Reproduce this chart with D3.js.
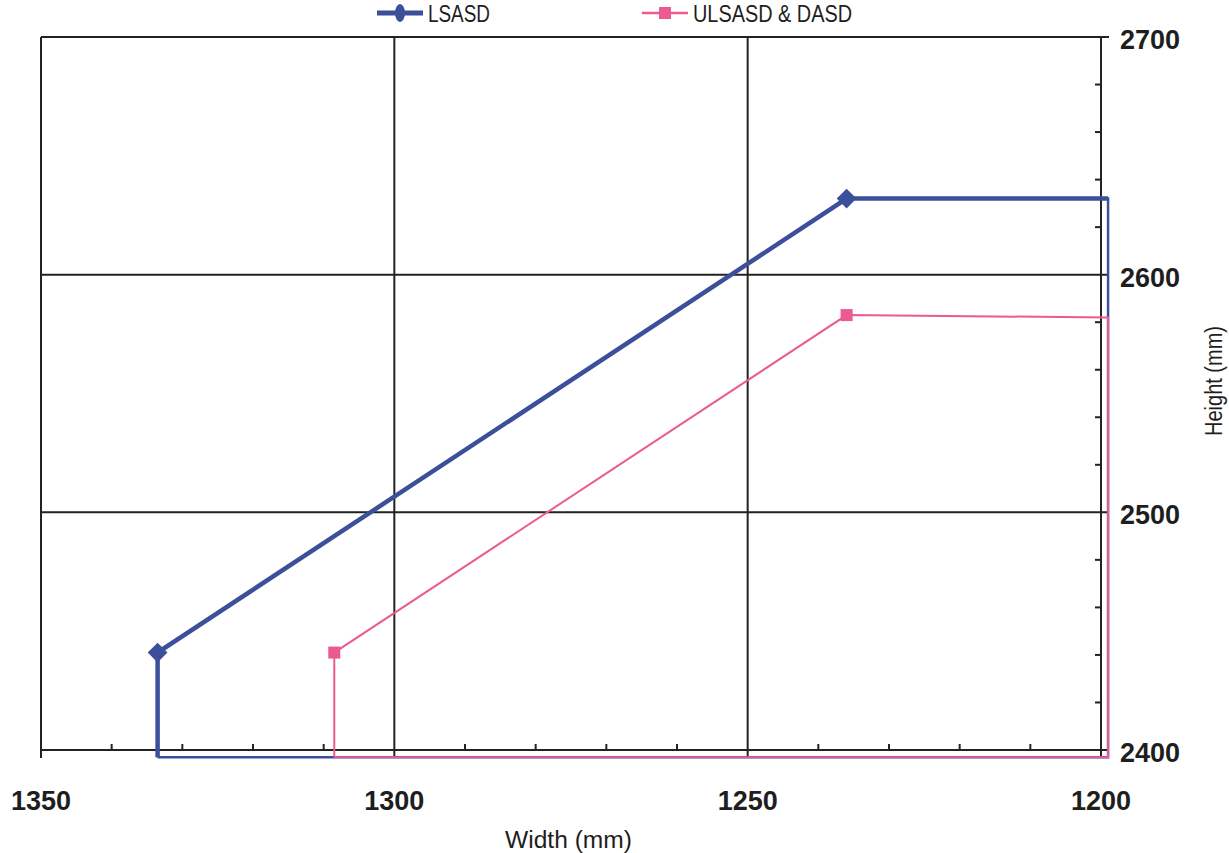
<!DOCTYPE html>
<html><head>
<meta charset="utf-8">
<script src="https://d3js.org/d3.v7.min.js"></script>
<style>
  body { margin: 0; background: #fff; }
  .tick-label { font-family: "Liberation Sans", Arial, sans-serif; font-weight: bold; font-size: 27px; fill: #1e1e1e; }
  .title { font-family: "Liberation Sans", Arial, sans-serif; font-size: 23px; fill: #1e1e1e; }
  .grid { stroke: #222; stroke-width: 2px; }
</style>
</head>
<body>
<svg id="chart" width="1229" height="853"></svg>
<script>
  // series: width (mm) and height (mm), outline of each envelope
  const lsasdWidth  = [1333.5, 1333.5, 1236, 1199, 1199, 1333.5];
  const lsasdHeight = [2397, 2441, 2632, 2632, 2397, 2397];
  const ulsasdWidth  = [1308.5, 1308.5, 1236, 1199, 1199, 1308.5];
  const ulsasdHeight = [2397, 2441, 2583, 2582, 2397, 2397];
  // which points carry a marker
  const markerIdx = [1, 2];

  const xTicks = [1350, 1300, 1250, 1200];
  const yTicks = [2400, 2500, 2600, 2700];
  const seriesNames = ["LSASD", "ULSASD & DASD"];

  const svg = d3.select("#chart");
  const x = d3.scaleLinear().domain([1350, 1200]).range([41, 1101]);
  const y = d3.scaleLinear().domain([2400, 2700]).range([750, 37]);

  // gridlines
  svg.append("g").selectAll("line").data([1300, 1250]).join("line")
    .attr("class", "grid")
    .attr("x1", d => x(d)).attr("x2", d => x(d))
    .attr("y1", y(2700)).attr("y2", y(2400) + 6);
  svg.append("g").selectAll("line").data([2500, 2600]).join("line")
    .attr("class", "grid")
    .attr("x1", x(1350)).attr("x2", x(1200) + 8)
    .attr("y1", d => y(d)).attr("y2", d => y(d));

  // frame: top and left border, bottom and right axes
  svg.append("line").attr("class", "grid")
    .attr("x1", x(1350)).attr("x2", x(1200) + 8).attr("y1", y(2700)).attr("y2", y(2700));
  svg.append("line").attr("class", "grid")
    .attr("x1", x(1350)).attr("x2", x(1350)).attr("y1", y(2700)).attr("y2", y(2400) + 8);
  svg.append("line").attr("class", "grid")
    .attr("x1", x(1350)).attr("x2", x(1200) + 8).attr("y1", y(2400)).attr("y2", y(2400));
  svg.append("line").attr("class", "grid")
    .attr("x1", x(1200)).attr("x2", x(1200)).attr("y1", y(2700)).attr("y2", y(2400) + 6);

  // minor ticks
  const xMinor = d3.range(1340, 1200, -10).filter(v => v % 50 !== 0);
  svg.append("g").selectAll("line").data(xMinor).join("line")
    .attr("stroke", "#222").attr("stroke-width", 2)
    .attr("x1", d => x(d)).attr("x2", d => x(d))
    .attr("y1", y(2400)).attr("y2", y(2400) - 6);
  const yMinor = d3.range(2420, 2700, 20).filter(v => v % 100 !== 0);
  svg.append("g").selectAll("line").data(yMinor).join("line")
    .attr("stroke", "#222").attr("stroke-width", 2)
    .attr("x1", x(1200)).attr("x2", x(1200) - 6)
    .attr("y1", d => y(d)).attr("y2", d => y(d));

  // tick labels
  svg.append("g").selectAll("text").data(xTicks).join("text")
    .attr("class", "tick-label")
    .attr("x", d => x(d)).attr("y", 810)
    .attr("text-anchor", "middle")
    .text(d => d);
  svg.append("g").selectAll("text").data(yTicks).join("text")
    .attr("class", "tick-label")
    .attr("x", 1120).attr("y", d => y(d) + 12)
    .text(d => d);

  // axis titles
  svg.append("text").attr("class", "title")
    .attr("x", 505).attr("y", 848)
    .attr("textLength", 127).attr("lengthAdjust", "spacingAndGlyphs")
    .text("Width (mm)");
  svg.append("text").attr("class", "title")
    .attr("transform", "translate(1222,436) rotate(-90)")
    .attr("textLength", 110).attr("lengthAdjust", "spacingAndGlyphs")
    .text("Height (mm)");

  const line = d3.line().x(d => x(d[0])).y(d => y(d[1]));
  const blue = "#3b4f9b", pink = "#ec5a92";

  // LSASD outline: thin closing edges, thick main edges
  const lsasd = lsasdWidth.map((w, i) => [w, lsasdHeight[i]]);
  svg.append("path").datum(lsasd).attr("d", line)
    .attr("fill", "none").attr("stroke", blue).attr("stroke-width", 2.5);
  svg.append("path").datum(lsasd.slice(0, 4)).attr("d", line)
    .attr("fill", "none").attr("stroke", blue).attr("stroke-width", 4.5);

  const ulsasd = ulsasdWidth.map((w, i) => [w, ulsasdHeight[i]]);
  svg.append("path").datum(ulsasd).attr("d", line)
    .attr("fill", "none").attr("stroke", pink).attr("stroke-width", 2);

  // markers
  svg.append("g").selectAll("rect").data(markerIdx.map(i => lsasd[i])).join("rect")
    .attr("x", -7).attr("y", -7).attr("width", 14).attr("height", 14)
    .attr("transform", d => "translate(" + x(d[0]) + "," + y(d[1]) + ") rotate(45)")
    .attr("fill", blue);
  svg.append("g").selectAll("rect").data(markerIdx.map(i => ulsasd[i])).join("rect")
    .attr("x", d => x(d[0]) - 6).attr("y", d => y(d[1]) - 6)
    .attr("width", 12).attr("height", 12)
    .attr("fill", pink);

  // legend
  const legend = [{ name: seriesNames[0], color: blue, x0: 377, w: 5, len: 62 },
                  { name: seriesNames[1], color: pink, x0: 642, w: 2.5, len: 159 }];
  const lg = svg.append("g").selectAll("g").data(legend).join("g")
    .attr("transform", d => "translate(" + d.x0 + ",13)");
  lg.append("line").attr("x1", 0).attr("x2", 46).attr("y1", 0).attr("y2", 0)
    .attr("stroke", d => d.color).attr("stroke-width", d => d.w);
  lg.filter((d, i) => i === 0).append("ellipse")
    .attr("cx", 23).attr("cy", 0).attr("rx", 5).attr("ry", 9)
    .attr("fill", blue);
  lg.filter((d, i) => i === 1).append("rect")
    .attr("x", 17).attr("y", -6).attr("width", 12).attr("height", 12)
    .attr("fill", pink);
  lg.append("text").attr("class", "title")
    .attr("x", 51).attr("y", 9)
    .attr("textLength", d => d.len).attr("lengthAdjust", "spacingAndGlyphs")
    .text(d => d.name);
</script>
</body>
</html>
